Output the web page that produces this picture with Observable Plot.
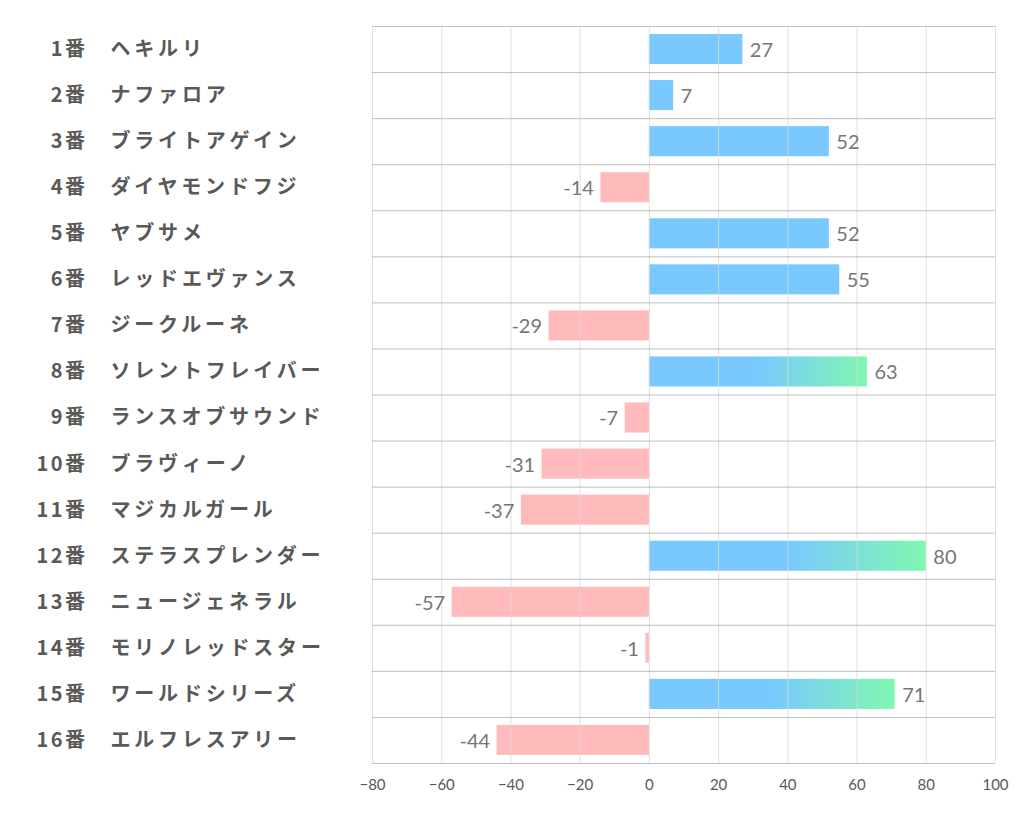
<!DOCTYPE html>
<html>
<head>
<meta charset="utf-8">
<script src="https://cdn.jsdelivr.net/npm/d3@7"></script>
<script src="https://cdn.jsdelivr.net/npm/@observablehq/plot@0.6"></script>
<style>
  html, body { margin: 0; padding: 0; background: #ffffff; }
</style>
</head>
<body>
<div id="chart"></div>
<script>
const nums = ["1番","2番","3番","4番","5番","6番","7番","8番","9番","10番","11番","12番","13番","14番","15番","16番"];
const names = ["ヘキルリ","ナファロア","ブライトアゲイン","ダイヤモンドフジ","ヤブサメ","レッドエヴァンス","ジークルーネ","ソレントフレイバー","ランスオブサウンド","ブラヴィーノ","マジカルガール","ステラスプレンダー","ニュージェネラル","モリノレッドスター","ワールドシリーズ","エルフレスアリー"];
const values = [27, 7, 52, -14, 52, 55, -29, 63, -7, -31, -37, 80, -57, -1, 71, -44];
const xTicks = [-80, -60, -40, -20, 0, 20, 40, 60, 80, 100];

const data = names.map((name, i) => ({idx: i, num: nums[i], name, value: values[i]}));

const BLUE = "#79c9ff";
const GREEN = "#80f7b1";
const PINK = "#ffbabc";

const defs = () => {
  const d = d3.create("svg:defs");
  const g = d.append("linearGradient").attr("id", "barGrad")
    .attr("x1", 0).attr("x2", 1).attr("y1", 0).attr("y2", 0);
  g.append("stop").attr("offset", 0).attr("stop-color", BLUE);
  g.append("stop").attr("offset", 0.5).attr("stop-color", BLUE);
  g.append("stop").attr("offset", 1).attr("stop-color", GREEN);
  return d.node();
};

const jp = "'Noto Sans CJK JP', 'Noto Sans', sans-serif";
const num = "Lato, 'Open Sans', sans-serif";

const chart = Plot.plot({
  width: 1022,
  height: 834,
  marginLeft: 372,
  marginRight: 27,
  marginTop: 26,
  marginBottom: 71,
  style: {fontSize: "15px", color: "#595959", fontFamily: num, background: "#ffffff"},
  x: {domain: [-80, 100], ticks: xTicks, tickSize: 0, tickPadding: 16, label: null},
  y: {domain: [0, names.length], reverse: true, axis: null},
  marks: [
    defs,
    Plot.rectX(data, {
      x1: 0, x2: "value",
      y1: d => d.idx, y2: d => d.idx + 1,
      insetTop: 8, insetBottom: 8,
      fill: d => d.value < 0 ? PINK : (d.value >= 60 ? "url(#barGrad)" : BLUE)
    }),
    Plot.ruleX(xTicks, {stroke: "#d9d9d9", strokeOpacity: 0.8}),
    Plot.ruleY(d3.range(names.length + 1), {stroke: "#bfbfbf"}),
    Plot.text(data.filter(d => d.value >= 0), {
      x: "value", y: d => d.idx + 0.5,
      text: d => String(d.value),
      textAnchor: "start", dx: 7, dy: 1,
      fontSize: 20, fill: "#767676", fontFamily: num
    }),
    Plot.text(data.filter(d => d.value < 0), {
      x: "value", y: d => d.idx + 0.5,
      text: d => String(d.value),
      textAnchor: "end", dx: -7, dy: 1,
      fontSize: 20, fill: "#767676", fontFamily: num
    }),
    Plot.text(data, {
      frameAnchor: "left", y: d => d.idx + 0.5,
      text: "num", textAnchor: "end", dx: -285,
      fontSize: 20, fontWeight: "bold", fill: "#595959", fontFamily: jp
    }),
    Plot.text(data, {
      frameAnchor: "left", y: d => d.idx + 0.5,
      text: "name", textAnchor: "start", dx: -262,
      fontSize: 20, fontWeight: "bold", fill: "#595959", fontFamily: jp
    })
  ]
});
d3.select(chart).selectAll("text").filter(function() { return /[ァ-ヶー]/.test(this.textContent); }).style("letter-spacing", "3.8px");
d3.select(chart).selectAll("text").filter(function() { return /番/.test(this.textContent); }).style("letter-spacing", "2.5px");
document.getElementById("chart").appendChild(chart);
</script>
</body>
</html>
